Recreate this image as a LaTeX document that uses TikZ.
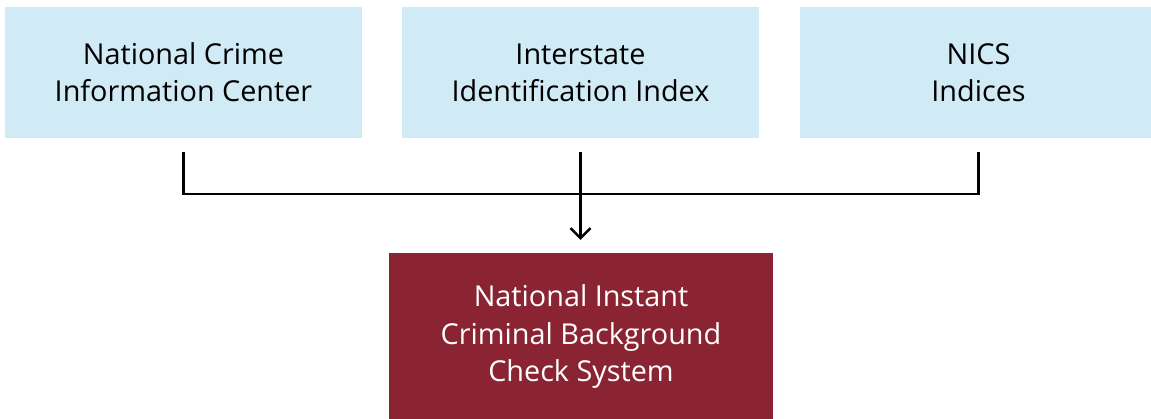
\documentclass[tikz,border=0pt]{standalone}
\usepackage{fontspec}
\setmainfont{Open Sans}
\usetikzlibrary{arrows.meta}
\definecolor{srcblue}{HTML}{D1EBF6}
\definecolor{nicsred}{HTML}{8A2433}
\begin{document}
\begin{tikzpicture}[x=1pt,y=-1pt,
    source/.style={fill=srcblue,minimum width=357pt,minimum height=131pt,
      inner sep=0pt,align=center,font=\fontsize{28.8}{37}\selectfont},
    target/.style={fill=nicsred,text=white,minimum width=384pt,minimum height=168pt,
      inner sep=0pt,align=center,font=\fontsize{28.8}{37.5}\selectfont},
    link/.style={line width=2.5pt,shorten <=14pt}]
      \useasboundingbox (0,0) rectangle (1151,419);
      \draw
        (183.5,72.5) node[source] (ncic){National Crime\\Information Center}
        (580.5,72.5) node[source] (iii){Interstate\\Identification Index}
        (978.5,72.5) node[source] (idx){NICS\\Indices}
        (581,337) node[target] (nics){National Instant\\Criminal Background\\Check System};
      \coordinate (hub) at (580.5,194);
      \begin{scope}[link]
        \draw[shorten >=14pt] (ncic.south) |- (hub) -| (idx.south);
        \draw[-{Straight Barb[length=10pt,width=20pt]},shorten >=13pt] (iii.south) to (nics.north -| iii.south);
      \end{scope}
    \end{tikzpicture}
\end{document}
